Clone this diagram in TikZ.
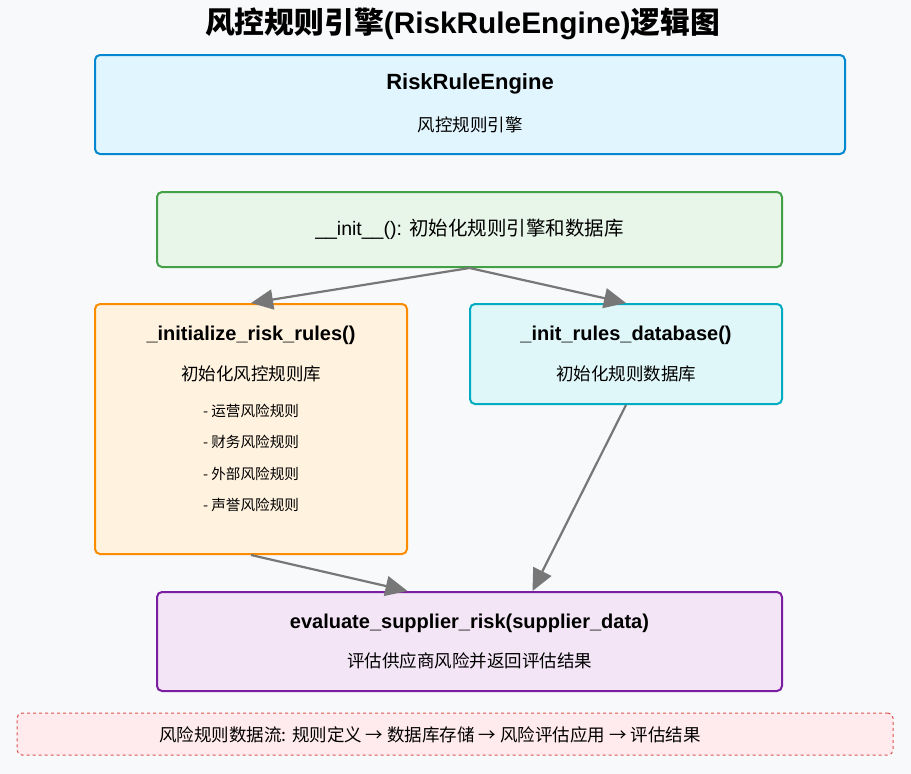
\documentclass[tikz,border=0pt]{standalone}
\usepackage{fontspec}
\setmainfont{Liberation Sans}
\newfontfamily\cjk{Noto Sans CJK SC}
\usetikzlibrary{arrows.meta,calc}

\definecolor{pagebg}{HTML}{F8F9FA}
\definecolor{engfill}{HTML}{E1F5FE}
\definecolor{engline}{HTML}{0288D1}
\definecolor{initfill}{HTML}{E8F5E9}
\definecolor{initline}{HTML}{43A047}
\definecolor{rulefill}{HTML}{FFF3E0}
\definecolor{ruleline}{HTML}{FB8C00}
\definecolor{dbfill}{HTML}{E0F7FA}
\definecolor{dbline}{HTML}{00ACC1}
\definecolor{evalfill}{HTML}{F3E5F5}
\definecolor{evalline}{HTML}{7B1FA2}
\definecolor{notefill}{HTML}{FFEBEE}
\definecolor{noteline}{HTML}{D9534F}
\definecolor{flowgray}{HTML}{777777}

\tikzset{
  box/.style={draw, line width=2pt, rounded corners=5pt, inner sep=0pt},
  flow/.style={draw=flowgray, line width=2.2pt, -{Triangle[length=22pt,width=20pt]}},
  boxtitle/.style={font=\fontsize{20}{22}\selectfont\bfseries},
  boxtext/.style={font=\fontsize{17.5}{20}\selectfont\cjk},
  itemtext/.style={font=\fontsize{14.6}{17}\selectfont\cjk}
}

\begin{document}
\begin{tikzpicture}[x=1pt, y=-1pt]
        \fill[pagebg] (0,0) rectangle (911,774);
        \useasboundingbox (0,0) rectangle (911,774);
        % title
        \node (title) at (462.5,24) {\fontsize{29.8}{32}\selectfont\bfseries{\cjk 风控规则引擎}(RiskRuleEngine){\cjk 逻辑图}};
        % boxes
        \node[box, draw=engline, fill=engfill, minimum width=750pt, minimum height=99pt] (engine) at (470,104.5) {};
        \node[box, draw=initline, fill=initfill, minimum width=625pt, minimum height=75pt] (init) at (469.5,229.5) {};
        \node[box, draw=ruleline, fill=rulefill, minimum width=312pt, minimum height=250pt] (rules) at (251,429) {};
        \node[box, draw=dbline, fill=dbfill, minimum width=312pt, minimum height=100pt] (db) at (626,354) {};
        \node[box, draw=evalline, fill=evalfill, minimum width=625pt, minimum height=99pt] (eval) at (469.5,641.5) {};
        \node[box, draw=noteline, fill=notefill, line width=1pt, dashed, minimum width=876pt, minimum height=42pt] (note) at (455,734) {};
        % texts
        \node[boxtitle, font=\fontsize{22}{24}\selectfont\bfseries] (engname) at (470,84) {RiskRuleEngine};
        \node[boxtext] (engdesc) at (470,125) {风控规则引擎};
        \node[boxtext, font=\fontsize{19.5}{22}\selectfont\cjk] (initdesc) at (469.5,229) {\fontspec{Liberation Sans}\_\_init\_\_(): \cjk 初始化规则引擎和数据库};
        \node[boxtitle] (rulesname) at (251,335) {\_initialize\_risk\_rules()};
        \node[boxtext] (rulesdesc) at (251,374) {初始化风控规则库};
        \foreach \t [count=\i] in {运营风险规则, 财务风险规则, 外部风险规则, 声誉风险规则}
            \node[itemtext] (item\i) at (251,{411+31.3*(\i-1)}) {- \t};
        \node[boxtitle] (dbname) at (626,335) {\_init\_rules\_database()};
        \node[boxtext] (dbdesc) at (626,374) {初始化规则数据库};
        \node[boxtitle] (evalname) at (469.5,623) {evaluate\_supplier\_risk(supplier\_data)};
        \node[boxtext] (evaldesc) at (469.5,661) {评估供应商风险并返回评估结果};
        \node[boxtext] (notetext) at (430,735) {风险规则数据流: 规则定义 → 数据库存储 → 风险评估应用 → 评估结果};
        % connectors
        \draw[flow] (init.south) -- (rules.north);
        \draw[flow] (init.south) -- (db.north);
        \draw[flow] (rules.south) -- ($(eval.north)+(-62,0)$);
        \draw[flow] (db.south) -- ($(eval.north)+(63,0)$);
    \end{tikzpicture}
\end{document}
